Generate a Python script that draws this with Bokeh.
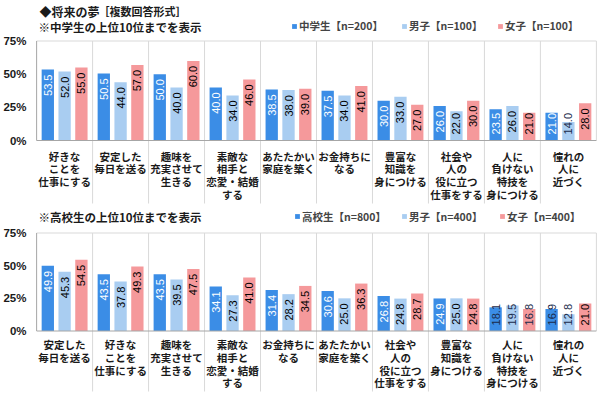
import numpy as np
from bokeh.plotting import figure
from bokeh.models import Range1d, FixedTicker, Label, Legend, LegendItem
from bokeh.layouts import column
from bokeh.embed import file_html
from bokeh.resources import INLINE
from bokeh.core.properties import value

# ---------------- data ----------------
title_main = "◆将来の夢"
title_sub = "［複数回答形式］"

jh_subtitle = "※中学生の上位10位までを表示"
jh_series = ["中学生【n=200】", "男子【n=100】", "女子【n=100】"]
jh_categories = [
    "好きな\nことを\n仕事にする",
    "安定した\n毎日を送る",
    "趣味を\n充実させて\n生きる",
    "素敵な\n相手と\n恋愛・結婚\nする",
    "あたたかい\n家庭を築く",
    "お金持ちに\nなる",
    "豊富な\n知識を\n身につける",
    "社会や\n人の\n役に立つ\n仕事をする",
    "人に\n負けない\n特技を\n身につける",
    "憧れの\n人に\n近づく",
]
jh_total = [53.5, 50.5, 50.0, 40.0, 38.5, 37.5, 30.0, 26.0, 23.5, 21.0]
jh_boys = [52.0, 44.0, 40.0, 34.0, 38.0, 34.0, 33.0, 22.0, 26.0, 14.0]
jh_girls = [55.0, 57.0, 60.0, 46.0, 39.0, 41.0, 27.0, 30.0, 21.0, 28.0]

hs_subtitle = "※高校生の上位10位までを表示"
hs_series = ["高校生【n=800】", "男子【n=400】", "女子【n=400】"]
hs_categories = [
    "安定した\n毎日を送る",
    "好きな\nことを\n仕事にする",
    "趣味を\n充実させて\n生きる",
    "素敵な\n相手と\n恋愛・結婚\nする",
    "お金持ちに\nなる",
    "あたたかい\n家庭を築く",
    "社会や\n人の\n役に立つ\n仕事をする",
    "豊富な\n知識を\n身につける",
    "人に\n負けない\n特技を\n身につける",
    "憧れの\n人に\n近づく",
]
hs_total = [49.9, 43.5, 43.5, 34.1, 31.4, 30.6, 26.8, 24.9, 18.1, 16.9]
hs_boys = [45.3, 37.8, 39.5, 27.3, 28.2, 25.0, 24.8, 25.0, 19.5, 12.8]
hs_girls = [54.5, 49.3, 47.5, 41.0, 34.5, 36.3, 28.7, 24.8, 16.8, 21.0]

y_ticks = [0, 25, 50, 75]
y_tick_labels = {t: f"{t}%" for t in y_ticks}

# ---------------- style ----------------
COLORS = ["#3B8DE6", "#A9CDF1", "#F5999B"]
TEXT_COLORS = ["#FFFFFF", "#000000", "#000000"]
JP = "Noto Sans CJK JP"
NUM = "Liberation Sans"
W = 600
LEFT = 31
RIGHT = 3
BAR_OFFSET = 0.3
BAR_W = 0.22
LABEL_MIN = 24.5     # labels of short bars are lifted to this level
DARK_BELOW = 20.0    # white labels switch to dark when they stick out of the bar


def make_panel(height, zero_px, top_px, subtitle, sub_y, cats, series_vals, series_names,
               legend_xs, cat_offset, with_title):
    n = len(cats)
    per_px = (y_ticks[-1] - y_ticks[0]) / (zero_px - top_px)
    y_lo = -(height - zero_px) * per_px
    y_hi = y_ticks[-1] + top_px * per_px
    pad = 0.02
    p = figure(width=W, height=height, x_range=Range1d(-pad, n + pad),
               y_range=Range1d(y_lo, y_hi), output_backend="svg", toolbar_location=None,
               min_border_left=LEFT, min_border_right=RIGHT, min_border_top=0,
               min_border_bottom=0, x_axis_location=None)
    p.outline_line_color = None
    p.grid.visible = False
    p.background_fill_color = "white"
    p.border_fill_color = "white"

    ax = p.yaxis[0]
    ax.ticker = FixedTicker(ticks=y_ticks)
    ax.major_label_overrides = y_tick_labels
    ax.axis_line_color = None
    ax.major_tick_out = 0
    ax.major_tick_in = 0
    ax.minor_tick_out = 0
    ax.minor_tick_in = 0
    ax.major_label_standoff = 9
    ax.major_label_text_font = NUM
    ax.major_label_text_font_style = "bold"
    ax.major_label_text_font_size = "11.5px"
    ax.major_label_text_color = "#1a1a1a"

    idx = np.arange(n) + 0.5
    # frame / separators
    bounds = np.arange(1, n)
    p.segment(x0=bounds, y0=y_lo + 4 * per_px, x1=bounds, y1=y_ticks[-1],
              line_color="#d9d9d9", line_width=1)
    p.segment(x0=[0, n], y0=[y_ticks[-1], 0], x1=[n, n], y1=[y_ticks[-1], y_ticks[-1]],
              line_color="#d9d9d9", line_width=1)

    renderers = []
    for k, vals in enumerate(series_vals):
        vals = np.asarray(vals, dtype=float)
        xs = idx + (k - 1) * BAR_OFFSET
        r = p.vbar(x=xs, top=vals, bottom=0, width=BAR_W, fill_color=COLORS[k],
                   line_color=None)
        renderers.append(r)
        tcol = [TEXT_COLORS[k] if v >= DARK_BELOW else "#1a2a4a" for v in vals]
        p.text(x=xs, y=np.maximum(vals, LABEL_MIN), text=[f"{v:.1f}" for v in vals],
               angle=np.pi / 2, text_align="right", text_baseline="middle",
               y_offset=5, text_color=tcol, text_font=value(NUM),
               text_font_size="11px")

    # axis lines
    p.segment(x0=[0, 0], y0=[y_ticks[0], 0], x1=[0, n], y1=[y_ticks[-1], 0],
              line_color="#a6a6a6", line_width=1)

    # category labels
    p.text(x=idx, y=np.zeros(n), text=cats, text_align="center", text_baseline="top",
           y_offset=cat_offset, text_font=value(JP), text_font_style="bold",
           text_font_size="10.5px", text_line_height=0.85, text_color="#1a1a1a")

    # subtitle / title (screen units are measured from the canvas)
    if with_title:
        p.add_layout(Label(x=4, y=height - 10.5, x_units="screen", y_units="screen",
                           text=title_main, text_baseline="middle", text_font=JP,
                           text_font_style="bold", text_font_size="12px",
                           text_color="#1a1a1a"))
        p.add_layout(Label(x=63, y=height - 10.5, x_units="screen", y_units="screen",
                           text=title_sub, text_baseline="middle", text_font=JP,
                           text_font_style="bold", text_font_size="11px",
                           text_color="#1a1a1a"))
    p.add_layout(Label(x=3, y=height - sub_y, x_units="screen", y_units="screen",
                       text=subtitle, text_baseline="middle", text_font=JP,
                       text_font_style="bold", text_font_size="11.5px",
                       text_color="#1a1a1a"))

    for s, r, lx in zip(series_names, renderers, legend_xs):
        legend = Legend(items=[LegendItem(label=s, renderers=[r])],
                        orientation="horizontal", location=(lx - LEFT, height - sub_y - 7),
                        glyph_width=6, glyph_height=6, label_standoff=2, spacing=0,
                        padding=0, margin=0, border_line_color=None,
                        background_fill_alpha=0, label_text_font=JP,
                        label_text_font_style="bold", label_text_font_size="10.5px",
                        label_height=14, label_text_baseline="middle")
        p.add_layout(legend)
    return p


p1 = make_panel(207, 140.0, 40.5, jh_subtitle, 26, jh_categories,
                [jh_total, jh_boys, jh_girls], jh_series, [287, 397, 493], 8, True)
p2 = make_panel(188, 123.5, 25.5, hs_subtitle, 9.5, hs_categories,
                [hs_total, hs_boys, hs_girls], hs_series, [290, 397, 495], 6, False)

layout = column(p1, p2, spacing=0)

open("out.html", "w").write(file_html(layout, INLINE))
